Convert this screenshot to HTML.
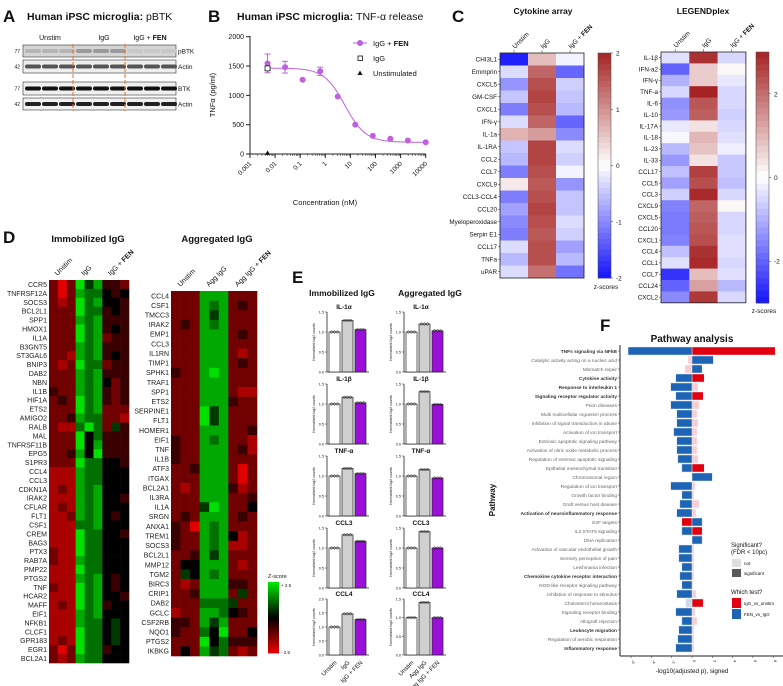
<!DOCTYPE html>
<html><head><meta charset="utf-8">
<style>
html,body{margin:0;padding:0;background:#fff;}
svg{display:block;font-family:"Liberation Sans",Arial,sans-serif;}
</style></head>
<body>
<svg id="fig" width="783" height="686" viewBox="0 0 783 686" xmlns="http://www.w3.org/2000/svg"></svg>
<script>
// ---------- Panel B data ----------
const bConc = [0.005,0.025,0.125,0.625,3.125,15.6,78,390,1950,10000];
const bFen = [1545,1480,1265,1410,980,500,310,260,230,200];
const bFenErr = [160,100,0,70,0,0,0,0,0,0];
const bIgG = [1460];
const bUnstim = [20];
const bCurve = [200,1465,6,1.05]; // bottom, top, IC50, hill
const bXTicks = ["0.001","0.01","0.1","1","10","100","1000","10000"];
const bYTicks = [0,500,1000,1500,2000];
// ---------- Panel C data ----------
const cyNames = ["CHI3L1","Emmprin","CXCL5","GM-CSF","CXCL1","IFN-γ","IL-1a","IL-1RA","CCL2","CCL7","CXCL9","CCL3-CCL4","CCL20","Myeloperoxidase","Serpin E1","CCL17","TNFa","uPAR"];
const cyUnstim = [-1.9,-0.3,-0.9,-0.5,-1.1,-0.3,0.7,-0.5,-0.6,-1.1,0.2,-1.1,-0.8,-1.0,-1.1,-0.3,-0.6,-0.3];
const cyIgG = [0.6,1.4,1.6,1.7,1.6,1.4,0.9,1.7,1.7,1.6,1.5,1.6,1.7,1.6,1.5,1.6,1.6,1.3];
const cyFen = [-0.1,-1.3,-0.4,-0.5,-0.6,-1.3,-1.0,-0.3,-0.4,-0.1,-0.9,-0.5,-0.5,-0.3,-0.4,-0.8,-0.6,-1.2];
const lpNames = ["IL-1β","IFN-a2","IFN-γ","TNF-a","IL-6","IL-10","IL-17A","IL-18","IL-23","IL-33","CCL17","CCL5","CCL3","CXCL9","CXCL5","CCL20","CXCL1","CCL4","CCL1","CCL7","CCL24","CXCL2"];
const lpUnstim = [-0.4,-2.0,-1.0,-0.5,-1.4,-1.3,-0.3,-0.1,-0.9,-1.3,-0.8,-1.2,-0.6,-1.6,-1.7,-1.7,-1.6,-0.8,-0.4,-2.6,-2.0,-1.5];
const lpIgG = [2.8,0.7,0.7,3.0,2.3,2.2,0.4,1.0,0.8,0.4,2.6,2.4,2.9,2.1,2.2,2.3,2.4,2.8,2.9,0.9,1.3,2.7];
const lpFen = [-0.5,0.1,-0.3,-0.5,-0.5,-0.6,-0.5,-0.4,-0.2,-0.7,-0.7,-0.8,-0.5,0.1,-0.5,-0.5,-0.4,-0.4,-0.5,-0.4,-0.9,-0.5];
// ---------- Panel D data (digit 0=-2.5 red, 4=0 black, 8=+2.5 green) ----------
const dImmGenes = ["CCR5","TNFRSF12A","SOCS3","BCL2L1","SPP1","HMOX1","IL1A","B3GNT5","ST3GAL6","BNIP3","DAB2","NBN","IL1B","HIF1A","ETS2","AMIGO2","RALB","MAL","TNFRSF11B","EPG5","S1PR3","CCL4","CCL3","CDKN1A","IRAK2","CFLAR","FLT1","CSF1","CREM","BAG3","PTX3","RAB7A","PMP22","PTGS2","TNF","HCAR2","MAFF","EIF1","NFKB1","CLCF1","GPR183","EGR1","BCL2A1"];
const dImmVals = ["202857332","202766434","212867443","222866343","222767333","222867343","222867233","222767333","221767343","212866233","222767333","222767423","322767323","232867323","222867222","223766221","211686253","222846333","222847333","223748333","222866443","111766444","111766444","121767444","111767443","121767444","112767434","111667444","111866443","111866444","211866444","211766444","111866444","111767434","211867434","111867443","121867344","111767444","111766454","111866454","121866454","202866344","212766444"];
const dAggGenes = ["CCL4","CSF1","TMCC3","IRAK2","EMP1","CCL3","IL1RN","TIMP1","SPHK1","TRAF1","SPP1","ETS2","SERPINE1","FLT1","HOMER1","EIF1","TNF","IL1B","ATF3","ITGAX","BCL2A1","IL3RA","IL1A","SRGN","ANXA1","TREM1","SOCS3","BCL2L1","MMP12","TGM2","BIRC3","CRIP1","DAB2","GCLC","CSF2RB","NQO1","PTGS2","IKBKG"];
const dAggVals = ["222777222","222767232","222757222","232767222","222777232","222777222","222777212","222777232","322787222","222777222","222777211","222777322","222857222","222857222","222777223","322767221","322777231","322777222","223777202","222777202","212777312","222777223","222587224","232777232","320767222","322767412","322767112","223757222","244777212","254767222","212777332","223777252","222666522","122776432","332757222","322648224","222846333","242756212"];
// ---------- Panel E data ----------
const eGenes = ["IL-1α","IL-1β","TNF-α","CCL3","CCL4"];
const eImm = [[1,1.29,1.06],[1,1.17,1.03],[1,1.19,1.06],[1,1.33,1.17],[1,1.47,1.27]];
const eAgg = [[1,1.2,1.03],[1,1.31,0.99],[1,1.16,0.95],[1,1.41,1.0],[1,1.41,1.0]];
const eImmMax = [1.5,1.5,1.5,1.5,2.0];
const eAggMax = [1.5,1.5,1.5,1.5,1.5];
// ---------- Panel F data ----------
const fPaths = ["TNFs signaling via NFkB","Catalytic activity acting on a nucleic acid","Mismatch repair","Cytokine activity","Response to interleukin 1","Signaling receptor regulator activity","Prion diseases","Multi multicellular organism process","Inhibition of signal transduction in abuse","Activation of ion transport","Extrinsic apoptotic signaling pathway","Activation of nitric oxide metabolic process","Regulation of extrinsic apoptotic signaling","Epithelial mesenchymal transition","Chromosomal region","Regulation of ion transport","Growth factor binding","Graft versus host disease","Activation of neuroinflammatory response","E2F targets","IL2 STAT5 signaling","DNA replication","Activation of vascular endothelial growth","Sensory perception of pain","Leishmania infection","Chemokine cytokine receptor interaction","NOD-like receptor signaling pathway","Inhibition of response to stimulus","Cholesterol homeostasis","Signaling receptor binding","Allograft rejection","Leukocyte migration","Regulation of aerobic respiration","Inflammatory response"];
const fBold = [1,0,0,1,1,1,0,0,0,0,0,0,0,0,0,0,0,0,1,0,0,0,0,0,0,1,0,0,0,0,0,1,0,1];
const fFen = [-6.3,2.1,1.0,-1.6,-2.1,-1.6,-2.1,-1.5,-1.5,-1.8,-1.5,-1.5,-1.4,-1.0,2.0,-2.1,-1.0,-1.2,-1.5,1.0,-1.0,1.0,-1.3,-1.3,-1.0,-1.2,-1.0,-1.5,-0.6,-1.6,-1.0,-1.3,-1.4,-1.6];
const fFenSig = [1,1,1,1,1,1,1,1,1,1,1,1,1,1,1,1,1,1,1,1,1,1,1,1,1,1,1,1,0,1,1,1,1,1];
const fIgg = [8.2,-0.4,-0.7,1.2,0.6,1.1,0.7,0.5,0.6,0.5,0.5,0.5,0.6,1.2,0,0.3,0.2,0.7,0.4,-1.0,1.0,0,0.2,0.2,0.2,0.2,0.1,0.4,1.1,0.3,0.5,0.2,0.2,0.2];
const fIggSig = [1,0,0,1,0,1,0,0,0,0,0,0,0,1,0,0,0,0,0,1,1,0,0,0,0,0,0,0,1,0,0,0,0,0];
const fXTicks = [-6,-4,-2,0,2,4,6,8];

const NS = "http://www.w3.org/2000/svg";
const svg = document.getElementById('fig');
function mk(tag, attrs, parent){
  const e = document.createElementNS(NS, tag);
  for (const k in attrs) e.setAttribute(k, attrs[k]);
  (parent||svg).appendChild(e);
  return e;
}
function txt(x,y,s,size,opts,parent){
  opts = opts||{};
  const e = mk('text',{x:x,y:y,'font-size':size,fill:opts.fill||'#111','text-anchor':opts.anchor||'start','font-weight':opts.bold?'bold':'normal'},parent);
  if(opts.rot!==undefined) e.setAttribute('transform','rotate('+opts.rot+' '+x+' '+y+')');
  e.textContent = s;
  return e;
}
function grp(name){
  const g = mk('g',{});
  
  
  return g;
}

// ================= Panel A =================
let gA = grp('panel-a-western-blot');
let t = txt(3,22,'A',17,{bold:true},gA);


t = txt(27,20,'',10.5,{bold:true},gA);
t.innerHTML = 'Human iPSC microglia: <tspan font-weight="normal">pBTK</tspan>';


txt(50,40,'Unstim',7,{anchor:'middle'},gA);
txt(104,40,'IgG',7,{anchor:'middle'},gA);
t = txt(150,40,'',7,{anchor:'middle'},gA);
t.innerHTML = 'IgG + <tspan font-weight="bold">FEN</tspan>';
const blots = [[45,57,'pBTK','#d4d4d4','#9a9a9a','77'],[60,73,'Actin','#eeeeee','#555','42'],[82,95,'BTK','#f0f0f0','#111','77'],[98,110,'Actin','#f2f2f2','#222','42']];
blots.forEach((b,bi)=>{
  const r = mk('rect',{x:23,y:b[0],width:153,height:b[1]-b[0],fill:b[3],stroke:'#333','stroke-width':0.6},gA);
  
  
  for(let l=0;l<9;l++){
    let col=b[4];
    if(bi===0 && l>=6) col='#c8c8c8';
    if(bi===0 && l<3) col='#b5b5b5';
    mk('rect',{x:25+l*17,y:(b[0]+b[1])/2-2,width:16,height:4,rx:2,fill:col},gA);
  }
  txt(178,(b[0]+b[1])/2+2.5,b[2],6.5,{},gA);
  txt(20,(b[0]+b[1])/2+2,b[5],5,{anchor:'end'},gA);
});
[73,125].forEach(x=>{
  const l = mk('line',{x1:x,y1:44,x2:x,y2:111,stroke:'#f07020','stroke-width':1,'stroke-dasharray':'4,2'},gA);
  
  
});

// ================= Panel B =================
let gB = grp('panel-b-dose-response');
t = txt(208,22,'B',17,{bold:true},gB);
t = txt(237,20,'',10.5,{bold:true},gB);
t.innerHTML = 'Human iPSC microglia: <tspan font-weight="normal">TNF-α release</tspan>';


const bx = c => 250 + (Math.log10(c)+3)*25.1;
const by = v => 154 - v/2000*117.3;
mk('line',{x1:250,y1:36,x2:250,y2:154,stroke:'#222','stroke-width':1},gB);
mk('line',{x1:250,y1:154,x2:426,y2:154,stroke:'#222','stroke-width':1},gB);
bYTicks.forEach(v=>{
  mk('line',{x1:246,y1:by(v),x2:250,y2:by(v),stroke:'#222'},gB);
  txt(244,by(v)+2.5,String(v),7,{anchor:'end'},gB);
});
bXTicks.forEach((s,i)=>{
  const c = Math.pow(10,i-3);
  mk('line',{x1:bx(c),y1:154,x2:bx(c),y2:158,stroke:'#222'},gB);
  if(i<bXTicks.length-1) for(let m=2;m<10;m++) mk('line',{x1:bx(c*m),y1:154,x2:bx(c*m),y2:156,stroke:'#222','stroke-width':0.5},gB);
  txt(bx(c)+2,164,s,6.5,{anchor:'end',rot:-45},gB);
});
t = txt(215,95,'TNFα (pg/ml)',7.5,{anchor:'middle',rot:-90},gB);


t = txt(325,205,'Concentration (nM)',7.5,{anchor:'middle'},gB);


let pts='';
for(let k=0;k<=200;k++){
  const lc = Math.log10(0.005) + k/200*(Math.log10(10000)-Math.log10(0.005));
  const c = Math.pow(10,lc);
  const v = bCurve[0] + (bCurve[1]-bCurve[0])/(1+Math.pow(c/bCurve[2],bCurve[3]));
  pts += bx(c).toFixed(1)+','+by(v).toFixed(1)+' ';
}
let cl = mk('polyline',{points:pts,fill:'none',stroke:'#c060e0','stroke-width':1},gB);


bConc.forEach((c,i)=>{
  if(bFenErr[i]>0){
    mk('line',{x1:bx(c),y1:by(bFen[i]-bFenErr[i]),x2:bx(c),y2:by(bFen[i]+bFenErr[i]),stroke:'#c060e0','stroke-width':1},gB);
    [bFen[i]-bFenErr[i],bFen[i]+bFenErr[i]].forEach(v=>mk('line',{x1:bx(c)-3,y1:by(v),x2:bx(c)+3,y2:by(v),stroke:'#c060e0'},gB));
  }
  const p = mk('circle',{cx:bx(c),cy:by(bFen[i]),r:3,fill:'#c060e0'},gB);
  
  
});
bIgG.forEach(v=>{
  const p = mk('rect',{x:bx(bConc[0])-2.5,y:by(v)-2.5,width:5,height:5,fill:'#fff',stroke:'#111','stroke-width':0.8},gB);
  
  
});
bUnstim.forEach(v=>{
  const x=bx(bConc[0]), y=by(v);
  const p = mk('polygon',{points:(x-2.5)+','+(y+2)+' '+(x+2.5)+','+(y+2)+' '+x+','+(y-2.5),fill:'#111'},gB);
  
  
});
let lg = mk('g',{},gB);


mk('line',{x1:353,y1:43,x2:367,y2:43,stroke:'#c060e0','stroke-width':1},lg);
mk('circle',{cx:360,cy:43,r:3,fill:'#c060e0'},lg);
t = txt(373,46,'',7.5,{},lg); t.innerHTML='IgG + <tspan font-weight="bold">FEN</tspan>';
mk('rect',{x:358,y:56,width:4.5,height:4.5,fill:'#fff',stroke:'#111','stroke-width':0.8},lg);
txt(373,61,'IgG',7.5,{},lg);
mk('polygon',{points:'357.5,75 362.5,75 360,70.5',fill:'#111'},lg);
txt(373,76,'Unstimulated',7.5,{},lg);

// ================= Panel C =================
let gC = grp('panel-c-cytokine-heatmaps');
txt(452,22,'C',17,{bold:true},gC);
txt(543,14,'Cytokine array',8.5,{bold:true,anchor:'middle'},gC);
txt(703,14,'LEGENDplex',8.5,{bold:true,anchor:'middle'},gC);
function bwr(z,lim){
  let f = Math.max(-1,Math.min(1,z/lim));
  if(f<0){ const a=-f; return 'rgb('+Math.round(255-a*235)+','+Math.round(255-a*235)+','+Math.round(255-a*5)+')'; }
  return 'rgb('+Math.round(255-f*90)+','+Math.round(255-f*220)+','+Math.round(255-f*220)+')';
}
function cHeat(names,cols,x0,y0,cw,rh,lim,prefix){
  const hg = mk('g',{},gC);
  
  
  names.forEach((n,r)=>{
    cols.forEach((arr,c)=>{
      const cell = mk('rect',{x:x0+c*cw,y:y0+r*rh,width:cw+0.3,height:rh+0.3,fill:bwr(arr[r],lim)},hg);
      
      
    });
    txt(x0-3,y0+r*rh+rh/2+2.2,n,6.3,{anchor:'end'},hg);
    mk('line',{x1:x0-2,y1:y0+r*rh+rh/2,x2:x0,y2:y0+r*rh+rh/2,stroke:'#333','stroke-width':0.5},hg);
  });
  mk('rect',{x:x0,y:y0,width:cw*3,height:rh*names.length,fill:'none',stroke:'#222','stroke-width':0.8},hg);
  ['Unstim','IgG','IgG + FEN'].forEach((h,c)=>{
    const cx=x0+c*cw+cw/2;
    mk('line',{x1:cx,y1:y0-3,x2:cx,y2:y0,stroke:'#333','stroke-width':0.5},hg);
    const tt = txt(cx+1,y0-4,'',6.5,{rot:-45},hg);
    tt.innerHTML = h==='IgG + FEN' ? 'IgG + <tspan font-weight="bold">FEN</tspan>' : h;
  });
}
cHeat(cyNames,[cyUnstim,cyIgG,cyFen],500,53,28,12.5,2,'cytokine-array');
cHeat(lpNames,[lpUnstim,lpIgG,lpFen],661,52,28.3,11.4,3,'legendplex');
function cBar(x,y0,y1,lim,ticks,name,labY){
  const cb = mk('g',{},gC);
  
  
  const n=40;
  for(let i=0;i<n;i++){
    const z = lim - (i+0.5)/n*2*lim;
    mk('rect',{x:x,y:y0+i*(y1-y0)/n,width:13,height:(y1-y0)/n+0.4,fill:bwr(z,lim)},cb);
  }
  mk('rect',{x:x,y:y0,width:13,height:y1-y0,fill:'none',stroke:'#444','stroke-width':0.5},cb);
  ticks.forEach(v=>{
    const y = y0 + (lim-v)/(2*lim)*(y1-y0);
    mk('line',{x1:x+13,y1:y,x2:x+15,y2:y,stroke:'#333','stroke-width':0.5},cb);
    txt(x+18,y+2.5,String(v),6.5,{},cb);
  });
  txt(x+8,labY,'z-scores',6.5,{anchor:'middle'},cb);
}
cBar(598,53,278,2,[2,1,0,-1,-2],'cytokine-colorbar',289);
cBar(756,52,303,3,[2,0,-2],'legendplex-colorbar',313);

// ================= Panel D =================
let gD = grp('panel-d-gene-heatmaps');
txt(3,243,'D',17,{bold:true},gD);
txt(88,242,'Immobilized IgG',9.5,{bold:true,anchor:'middle'},gD);
txt(217,242,'Aggregated IgG',9.5,{bold:true,anchor:'middle'},gD);
function rg(v){
  const f=(v-4)/4;
  if(f<0) return 'rgb('+Math.round(-f*225)+',0,0)';
  return 'rgb(0,'+Math.round(f*225)+',0)';
}
function dHeat(genes,vals,x0,y0,w,h,heads,name){
  const hg = mk('g',{},gD);
  
  
  const rh=h/genes.length, cw=w/9;
  genes.forEach((g,r)=>{
    for(let c=0;c<9;c++){
      const cell = mk('rect',{x:x0+c*cw,y:y0+r*rh,width:cw+0.3,height:rh+0.3,fill:rg(+vals[r][c])},hg);
      
      
    }
    txt(x0-2,y0+r*rh+rh/2+2.5,g,7,{anchor:'end',fill:'#222'},hg);
  });
  heads.forEach((hd,i)=>{
    const cx = x0 + (i*3+1.5)*cw;
    const tt = txt(cx-5,y0-4,'',7,{rot:-45},hg);
    tt.innerHTML = hd.indexOf('FEN')>=0 ? hd.replace(' FEN','')+' <tspan font-weight="bold">FEN</tspan>' : hd;
  });
}
dHeat(dImmGenes,dImmVals,49,280,80,383,['Unstim','IgG','IgG + FEN'],'immobilized-igg-heatmap');
dHeat(dAggGenes,dAggVals,171,291,86,365,['Unstim','Agg IgG','Agg IgG + FEN'],'aggregated-igg-heatmap');
let zb = mk('g',{},gD);


for(let i=0;i<30;i++){ mk('rect',{x:268,y:582+i*71/30,width:11,height:71/30+0.4,fill:rg(8-i*8/29)},zb); }
txt(268,578,'Z-score',5.5,{},zb);
txt(281,587,'+ 2.5',4.5,{},zb);
txt(281,654,'- 2.5',4.5,{},zb);

// ================= Panel E =================
let gE = grp('panel-e-bar-charts');
txt(292,283,'E',17,{bold:true},gE);
txt(342,296,'Immobilized IgG',8.5,{bold:true,anchor:'middle'},gE);
txt(430,296,'Aggregated IgG',8.5,{bold:true,anchor:'middle'},gE);
const eFill = ['#ffffff','#d0d0d0','#9a10d8'];
function ePlot(ax,title,top,h,ymax,vals,name){
  const pg = mk('g',{},gE);
  
  
  const y0 = top+h;
  const sy = v => y0 - v/ymax*h;
  txt(ax+17,top-3,title,6.5,{bold:true,anchor:'middle'},pg);
  mk('line',{x1:ax,y1:top,x2:ax,y2:y0,stroke:'#222','stroke-width':0.8},pg);
  mk('line',{x1:ax,y1:y0,x2:ax+42,y2:y0,stroke:'#222','stroke-width':0.8},pg);
  for(let v=0; v<=ymax+1e-6; v+=0.5){
    mk('line',{x1:ax-2,y1:sy(v),x2:ax,y2:sy(v),stroke:'#222','stroke-width':0.5},pg);
    txt(ax-3,sy(v)+1.5,v.toFixed(1),3.8,{anchor:'end'},pg);
  }
  txt(ax-12,(top+y0)/2,'Normalized log2 counts',3.6,{anchor:'middle',rot:-90},pg);
  vals.forEach((v,i)=>{
    const bx0 = ax+2+i*13;
    const b = mk('rect',{x:bx0,y:sy(v),width:11,height:y0-sy(v),fill:eFill[i],stroke:'#222','stroke-width':0.7},pg);
    
    
    for(let k=0;k<3;k++) mk('circle',{cx:bx0+2.5+k*3,cy:sy(v),r:1.2,fill:'none',stroke:'#222','stroke-width':0.5},pg);
  });
}
const eTitleY = [306,378,450,522,593];
eGenes.forEach((g,i)=>{
  const h = i===4?56:60;
  ePlot(327,g,eTitleY[i]+6,h,eImmMax[i],eImm[i],'imm-'+i);
  ePlot(404,g,eTitleY[i]+6,h,eAggMax[i],eAgg[i],'agg-'+i);
});
[['Unstim',335],['IgG',348],['IgG + FEN',361]].forEach(a=>{ txt(a[1]+2,663,a[0],6,{anchor:'end',rot:-45},gE); });
[['Unstim',412],['Agg IgG',425],['Agg IgG + FEN',438]].forEach(a=>{ txt(a[1]+2,663,a[0],6,{anchor:'end',rot:-45},gE); });

// ================= Panel F =================
let gF = grp('panel-f-pathway-analysis');
txt(600,331,'F',17,{bold:true},gF);
txt(692,342,'Pathway analysis',10,{bold:true,anchor:'middle'},gF);
const fx = v => 692 + v*10.15;
const fy = i => 351 + i*9.0;
fPaths.forEach((p,i)=>{
  const y = fy(i);
  const tt = txt(617,y+1.8,p,4.8,{anchor:'end',bold:fBold[i]===1,fill:fBold[i]?'#333':'#666'},gF);
  
  
  mk('line',{x1:618,y1:y,x2:620,y2:y,stroke:'#333','stroke-width':0.5},gF);
  const a = fIgg[i];
  if(a!==0){
    const r = mk('rect',{x:Math.min(fx(0),fx(a)),y:y-4,width:Math.abs(fx(a)-fx(0)),height:8,fill:fIggSig[i]?'#e00010':'#f8cdd2',stroke:'#fff','stroke-width':0.4},gF);
    
    
  }
  const b = fFen[i];
  const r2 = mk('rect',{x:Math.min(fx(0),fx(b)),y:y-4,width:Math.abs(fx(b)-fx(0)),height:8,fill:fFenSig[i]?'#1e64b4':'#c9d8ec',stroke:'#dce6f4','stroke-width':0.5},gF);
  
  
});
mk('line',{x1:620,y1:345,x2:620,y2:656,stroke:'#222','stroke-width':1},gF);
mk('line',{x1:620,y1:656,x2:783,y2:656,stroke:'#222','stroke-width':1},gF);
fXTicks.forEach(v=>{
  mk('line',{x1:fx(v),y1:656,x2:fx(v),y2:658,stroke:'#333','stroke-width':0.5},gF);
  txt(fx(v)+1,660,String(v),4,{rot:90},gF);
});
t = txt(692,673,'-log10(adjusted p), signed',6.3,{anchor:'middle'},gF);


t = txt(495,500,'Pathway',8,{anchor:'middle',bold:true,rot:-90},gF);


let fl = mk('g',{},gF);


txt(731,547,'Significant?',6,{},fl);
txt(731,554,'(FDR < 10pc)',6,{},fl);
mk('rect',{x:732,y:559,width:9,height:8,fill:'#dedede'},fl);
txt(744,565,'not',4.5,{},fl);
mk('rect',{x:732,y:569,width:9,height:8,fill:'#595959'},fl);
txt(744,575,'significant',4.5,{},fl);
txt(731,594,'Which test?',6,{},fl);
mk('rect',{x:732,y:598,width:9,height:10,fill:'#e00010'},fl);
txt(744,605,'IgG_vs_unstim',4.5,{},fl);
mk('rect',{x:732,y:609,width:9,height:10,fill:'#1e64b4'},fl);
txt(744,616,'FEN_vs_IgG',4.5,{},fl);
</script>
</body></html>
